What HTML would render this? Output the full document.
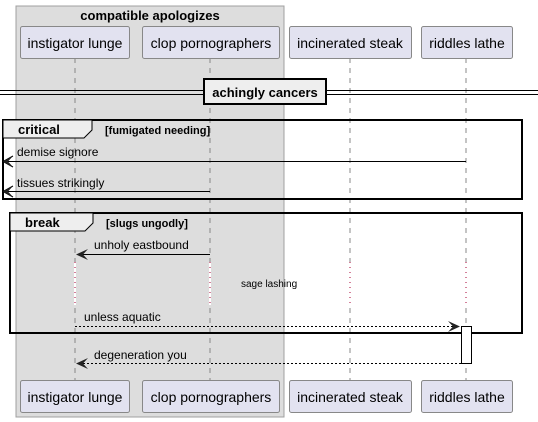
<!DOCTYPE html>
<html><head><style>body{margin:0;background:#fff}svg{display:block;font-family:"Liberation Sans",sans-serif}</style></head><body>
<svg width="538" height="422" viewBox="0 0 538 422" xmlns="http://www.w3.org/2000/svg">
<rect x="16" y="6" width="268" height="411" fill="#dddddd" stroke="#a0a0a0" stroke-width="1"/>
<text x="150" y="20" font-size="13" font-weight="bold" text-anchor="middle">compatible apologizes</text>
<g stroke="#888" stroke-dasharray="5,5" stroke-width="1">
<line x1="75" y1="58" x2="75" y2="380"/><line x1="210" y1="58" x2="210" y2="380"/>
<line x1="350" y1="58" x2="350" y2="380"/><line x1="466" y1="58" x2="466" y2="380"/>
</g>
<g stroke="#fff" stroke-width="2"><line x1="75" y1="262" x2="75" y2="305"/><line x1="210" y1="262" x2="210" y2="305"/><line x1="350" y1="262" x2="350" y2="305"/><line x1="466" y1="262" x2="466" y2="305"/></g>
<g stroke="#a80036" stroke-dasharray="1,4" stroke-width="1"><line x1="75" y1="262" x2="75" y2="305"/><line x1="210" y1="262" x2="210" y2="305"/><line x1="350" y1="262" x2="350" y2="305"/><line x1="466" y1="262" x2="466" y2="305"/></g>
<rect x="75" y="262" width="1" height="43" fill="#ddd" opacity="0"/>
<g fill="#e2e2f0" stroke="#888" stroke-width="1">
<rect x="20.5" y="26.5" width="109" height="32" rx="2"/><rect x="142.5" y="26.5" width="137" height="32" rx="2"/>
<rect x="289.5" y="26.5" width="122" height="32" rx="2"/><rect x="421.5" y="26.5" width="91" height="32" rx="2"/>
<rect x="20.5" y="380.5" width="109" height="32" rx="2"/><rect x="142.5" y="380.5" width="137" height="32" rx="2"/>
<rect x="289.5" y="380.5" width="122" height="32" rx="2"/><rect x="421.5" y="380.5" width="91" height="32" rx="2"/>
</g>
<g font-size="14" text-anchor="middle" fill="#000">
<text x="75" y="48">instigator lunge</text><text x="211" y="48">clop pornographers</text>
<text x="350" y="48">incinerated steak</text><text x="467" y="48">riddles lathe</text>
<text x="75" y="402">instigator lunge</text><text x="211" y="402">clop pornographers</text>
<text x="350" y="402">incinerated steak</text><text x="467" y="402">riddles lathe</text>
</g>
<g stroke="#000" stroke-width="1"><line x1="0" y1="90.5" x2="538" y2="90.5"/><line x1="0" y1="94.5" x2="538" y2="94.5"/></g>
<rect x="204" y="79" width="122" height="25" fill="#eee" stroke="#000" stroke-width="2"/>
<text x="265" y="97" font-size="13" font-weight="bold" text-anchor="middle">achingly cancers</text>
<rect x="3" y="120" width="519" height="79" fill="none" stroke="#000" stroke-width="2"/>
<path d="M3 120 H92 V130 L84 138 H3 Z" fill="#eee" stroke="#000" stroke-width="1"/>
<text x="18" y="134" font-size="13" font-weight="bold">critical</text>
<text x="105" y="134" font-size="11" font-weight="bold">[fumigated needing]</text>
<rect x="10" y="213" width="512" height="120" fill="none" stroke="#000" stroke-width="2"/>
<path d="M10 213 H93 V223 L85 231 H10 Z" fill="#eee" stroke="#000" stroke-width="1"/>
<text x="25" y="227" font-size="13" font-weight="bold">break</text>
<text x="106" y="227" font-size="11" font-weight="bold">[slugs ungodly]</text>
<g stroke="#000" stroke-width="1" fill="none">
<line x1="466" y1="161.5" x2="3" y2="161.5"/><path d="M13 156 L3 161.5 L13 167"/>
<line x1="210" y1="191.5" x2="3" y2="191.5"/><path d="M13 186 L3 191.5 L13 197"/>
<line x1="210" y1="254.5" x2="77" y2="254.5"/>
<line x1="75" y1="326.5" x2="458" y2="326.5" stroke-dasharray="2,2"/>
<line x1="461" y1="363.5" x2="77" y2="363.5" stroke-dasharray="2,2"/>
</g>
<g fill="#222"><path d="M76 254.5 L88 249 L83 254.5 L88 260 Z"/><path d="M460 326.5 L448 321 L453 326.5 L448 332 Z"/><path d="M76 363.5 L88 358 L83 363.5 L88 369 Z"/><path d="M3 161.5 L13 156 L8 161.5 L13 167Z"/><path d="M3 191.5 L13 186 L8 191.5 L13 197Z"/></g>
<rect x="461.5" y="326.5" width="10" height="37" fill="#fff" stroke="#000"/>
<g font-size="12" fill="#000">
<text x="17" y="156">demise signore</text><text x="17" y="187">tissues strikingly</text>
<text x="94" y="249">unholy eastbound</text><text x="84" y="321">unless aquatic</text>
<text x="94" y="359">degeneration you</text>
</g>
<text x="241" y="287" font-size="10">sage lashing</text>
</svg>
</body></html>
